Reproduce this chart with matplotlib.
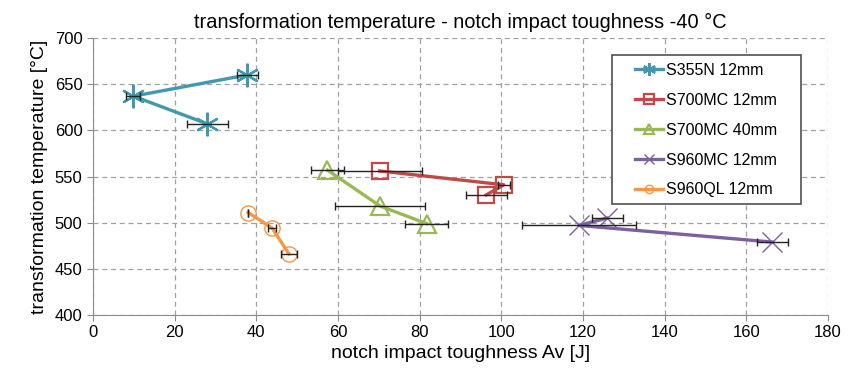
import matplotlib.pyplot as plt
from matplotlib.patches import Rectangle

plt.rcParams['font.family'] = ['Liberation Sans', 'DejaVu Sans']

# notch impact toughness Av [J] (x), its scatter (xerr) and transformation temperature [°C] (y)
s355n_av = [37.8, 9.9, 28.0]
s355n_err = [2.6, 1.7, 5.0]
s355n_t = [660, 637, 607]

s700mc12_av = [70.2, 100.6, 96.3]
s700mc12_err = [10.3, 1.5, 5.0]
s700mc12_t = [556, 541, 530]

s700mc40_av = [57.4, 70.3, 81.7]
s700mc40_err = [4.0, 11.0, 5.2]
s700mc40_t = [557, 518, 499]

s960mc_av = [125.9, 119.0, 166.3]
s960mc_err = [3.8, 14.0, 3.8]
s960mc_t = [505, 497, 479]

s960ql_av = [38.0, 43.9, 48.0]
s960ql_err = [0.0, 1.0, 2.0]
s960ql_t = [511, 494, 466]

series = [
    ('S355N 12mm', s355n_av, s355n_err, s355n_t, '#4198AF', (6, 2, 0), 17, 1.6),
    ('S700MC 12mm', s700mc12_av, s700mc12_err, s700mc12_t, '#BE4B48', 's', 12, 1.6),
    ('S700MC 40mm', s700mc40_av, s700mc40_err, s700mc40_t, '#98B954', '^', 13, 1.6),
    ('S960MC 12mm', s960mc_av, s960mc_err, s960mc_t, '#7D60A0', 'x', 14, 1.0),
    ('S960QL 12mm', s960ql_av, s960ql_err, s960ql_t, '#F79646', 'o', 11, 1.0),
]

W, H = 856, 372
fig = plt.figure(figsize=(W / 100, H / 100), dpi=100)
ax = fig.add_axes([93 / W, 1 - 315 / H, 735 / W, 277 / H])

for name, av, err, t, color, marker, ms, mew in series:
    ax.errorbar(av, t, xerr=err, fmt='none', ecolor='#222222', elinewidth=1.0,
                capsize=3, capthick=1.0, zorder=4)
    ax.plot(av, t, color=color, linewidth=2.4, marker=marker, markersize=ms,
            markerfacecolor='none', markeredgecolor=color, markeredgewidth=mew,
            label=name, zorder=3)

ax.set_xlim(0, 180)
ax.set_ylim(400, 700)
ax.set_xticks(range(0, 181, 20))
ax.set_yticks(range(400, 701, 50))
ax.grid(True, linestyle=(0, (4, 3)), color='#a0a0a0', linewidth=0.9)
ax.set_axisbelow(True)
for side in ['top', 'right']:
    ax.spines[side].set_visible(False)
for side in ['left', 'bottom']:
    ax.spines[side].set_color('#8c8c8c')
ax.tick_params(colors='#8c8c8c', labelcolor='black', labelsize=12, length=4)

ax.set_xlabel('notch impact toughness Av [J]', fontsize=14, labelpad=3)
ax.set_ylabel('transformation temperature [°C]', fontsize=14, labelpad=5)
ax.set_title('transformation temperature - notch impact toughness -40 °C',
             fontsize=14.4, pad=7)

# legend box drawn separately so the padding can be wider than tall
fig.patches.append(Rectangle((612 / W, 1 - 204 / H), 189 / W, 149 / H,
                             transform=fig.transFigure, facecolor='white',
                             edgecolor='#505050', linewidth=1.2, zorder=5))
leg = fig.legend(*ax.get_legend_handles_labels(), loc='upper left',
                 bbox_to_anchor=(635 / W, 1 - 63 / H), fontsize=11.5,
                 frameon=False, markerscale=0.55, handlelength=1.75,
                 labelspacing=0.93, borderpad=0, handletextpad=0.2,
                 borderaxespad=0)
leg.set_zorder(6)

fig.savefig('out.png', dpi=100)
